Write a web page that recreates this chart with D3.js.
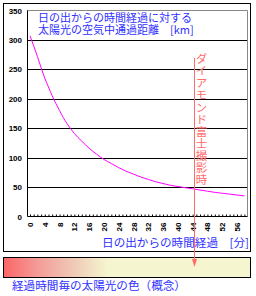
<!DOCTYPE html>
<html>
<head>
<meta charset="utf-8">
<script src="https://cdn.jsdelivr.net/npm/d3@7"></script>
<style>
  body { margin: 0; background: #fff; }
  svg { display: block; }
</style>
</head>
<body>
<svg id="chart" width="256" height="296"></svg>
<script>
// minutes after sunrise and distance the light travels through air (km)
let minutes = [0, 1, 2, 3, 4, 5, 6, 7, 8, 9, 10, 11, 12, 14, 16, 18, 20, 22, 24, 26, 28,
  30, 32, 34, 36, 38, 40, 42, 44, 46, 48, 50, 52, 54, 56, 58];
let distance = [307, 290, 272, 253, 235, 220, 205, 192, 180, 168, 158, 149, 141, 128, 116, 106, 97, 90, 83, 77, 72,
  67, 63, 59, 56, 53, 51, 49, 47, 45, 43, 41, 39.5, 38, 36.5, 35];

let yTicks = [0, 50, 100, 150, 200, 250, 300, 350];
let xTickLabels = [0, 4, 8, 12, 16, 20, 24, 28, 32, 36, 40, 44, 48, 52, 56];
let xMinorTicks = d3.range(0, 59, 1);
let eventMinute = 44.5;   // ダイアモンド富士撮影時

let titleLines = ["日の出からの時間経過に対する", "太陽光の空気中通過距離　[km]"];
let xTitle = "日の出からの時間経過　[分]";
let markerLabel = "ダイアモンド富士撮影時";
let barTitle = "経過時間毎の太陽光の色（概念）";

let jp = "'Noto Sans CJK JP', sans-serif";
let blue = "#2f2fff";
let pink = "#ff6b6b";

let svg = d3.select("#chart");

let plotLeft = 27, plotRight = 247, plotTop = 10.5, plotBottom = 216.5;

let x = d3.scaleLinear().domain([0, 56]).range([30, 237]);
let y = d3.scaleLinear().domain([0, 350]).range([plotBottom, plotTop]);

// outer frame
svg.append("rect")
  .attr("x", 3.5).attr("y", 3.5)
  .attr("width", 247).attr("height", 248)
  .attr("fill", "#fff").attr("stroke", "#000");

// gridlines
svg.append("g")
  .selectAll("line")
  .data(yTicks.filter(d => d > 0 && d < 350))
  .enter()
  .append("line")
  .attr("x1", plotLeft).attr("x2", plotRight)
  .attr("y1", d => Math.round(y(d)) + 0.5)
  .attr("y2", d => Math.round(y(d)) + 0.5)
  .attr("stroke", "#000");

// gray top and right edge of plot
svg.append("path")
  .attr("d", `M${plotLeft},${plotTop}H${plotRight + 0.5}V${plotBottom}`)
  .attr("fill", "none")
  .attr("stroke", "#888");

// y axis labels
let yAxis = d3.axisLeft(y).tickValues(yTicks).tickSize(0).tickPadding(5);
let gy = svg.append("g")
  .attr("transform", `translate(${plotLeft},0)`)
  .call(yAxis);
gy.select(".domain").remove();
gy.selectAll("text")
  .style("font-family", "'Liberation Sans', Arial, sans-serif")
  .style("font-size", "8px")
  .style("font-weight", "bold")
  .attr("fill", "#000");

// minor ticks along x axis
let xMinor = d3.axisBottom(x).tickValues(xMinorTicks).tickSizeInner(-2).tickSizeOuter(0).tickFormat("");
let gxm = svg.append("g")
  .attr("transform", `translate(0,${plotBottom})`)
  .call(xMinor);
gxm.select(".domain").remove();

// x tick labels, rotated
let xAxis = d3.axisBottom(x).tickValues(xTickLabels).tickSize(0).tickPadding(0);
let gx = svg.append("g")
  .attr("transform", `translate(0,${plotBottom})`)
  .call(xAxis);
gx.select(".domain").remove();
gx.selectAll("text")
  .attr("transform", "rotate(-90)")
  .attr("x", -6).attr("y", 0).attr("dy", "0.32em")
  .style("text-anchor", "end")
  .style("font-family", "'Liberation Sans', Arial, sans-serif")
  .style("font-size", "8px")
  .style("font-weight", "bold")
  .attr("fill", "#000");

// axis lines
svg.append("path")
  .attr("d", `M${plotLeft + 0.5},${plotTop}V${plotBottom}H${plotRight + 0.5}`)
  .attr("fill", "none")
  .attr("stroke", "#000");

// distance curve
let line = d3.line()
  .x((d, i) => x(minutes[i]))
  .y(d => y(d))
  .curve(d3.curveMonotoneX);

svg.append("path")
  .datum(distance)
  .attr("d", line)
  .attr("fill", "none")
  .attr("stroke", "#ff00ff")
  .attr("stroke-width", 1);

// title
svg.append("g")
  .selectAll("text")
  .data(titleLines)
  .enter()
  .append("text")
  .attr("x", 38)
  .attr("y", (d, i) => 21.5 + i * 12.5)
  .attr("font-family", jp)
  .attr("font-size", "11px")
  .attr("fill", blue)
  .text(d => d);

// x axis title
svg.append("text")
  .attr("x", 249).attr("y", 247)
  .attr("text-anchor", "end")
  .attr("font-family", jp)
  .attr("font-size", "11.6px")
  .attr("fill", blue)
  .text(xTitle);

// colour bar
let defs = svg.append("defs");
let grad = defs.append("linearGradient").attr("id", "sunColor");
let stops = [[0, "#fa6666"], [0.14, "#f49c98"], [0.28, "#efc8b6"], [0.42, "#f5f5cf"], [1, "#f5f5cf"]];
grad.selectAll("stop")
  .data(stops)
  .enter()
  .append("stop")
  .attr("offset", d => d[0])
  .attr("stop-color", d => d[1]);

svg.append("rect")
  .attr("x", 3.5).attr("y", 257.5)
  .attr("width", 247).attr("height", 20)
  .attr("fill", "url(#sunColor)")
  .attr("stroke", "#000");

svg.append("text")
  .attr("x", 12).attr("y", 290)
  .attr("font-family", jp)
  .attr("font-size", "11.6px")
  .attr("fill", blue)
  .text(barTitle);

// event marker line with arrow
let ex = Math.round(x(eventMinute)) + 0.5;
svg.append("line")
  .attr("x1", ex).attr("x2", ex)
  .attr("y1", 58).attr("y2", 262)
  .attr("stroke", pink);
svg.append("path")
  .attr("d", `M${ex - 2.5},${259}L${ex + 2.5},${259}L${ex},${267}Z`)
  .attr("fill", pink);

// vertical label
svg.append("text")
  .attr("x", ex + 7)
  .attr("y", 53)
  .attr("font-family", jp)
  .attr("font-size", "11.5px")
  .attr("fill", pink)
  .style("writing-mode", "vertical-rl")
  .style("text-orientation", "upright")
  .style("letter-spacing", "0.6px")
  .text(markerLabel);
</script>
</body>
</html>
